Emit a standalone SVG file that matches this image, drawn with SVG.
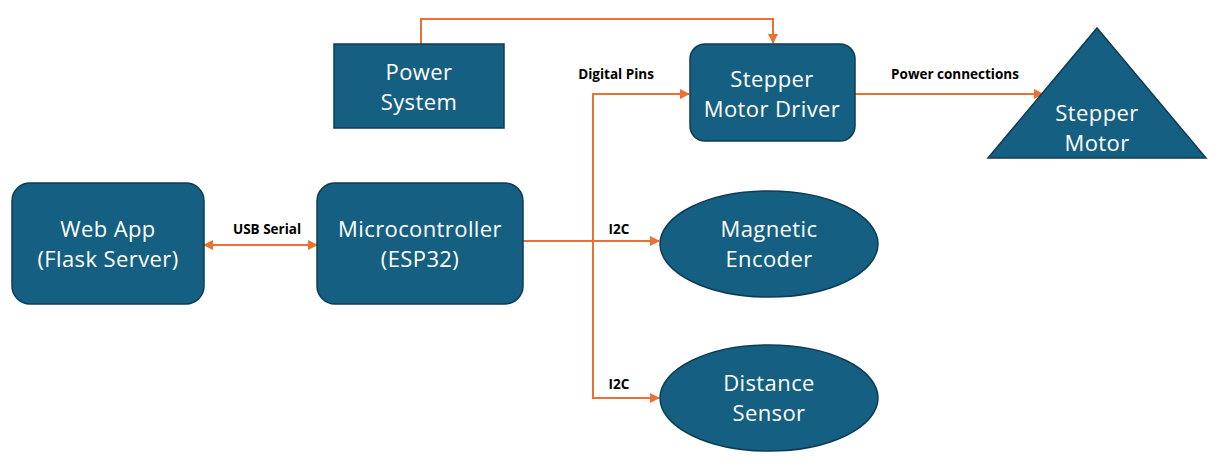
<svg xmlns="http://www.w3.org/2000/svg" width="1226" height="468" viewBox="0 0 1226 468">
<style>
.node{fill:#156082;stroke:#0c3c54;stroke-width:1.5}
.t{font-family:"Open Sans","Noto Sans",sans-serif;font-size:22px;letter-spacing:0.4px;fill:#ffffff;text-anchor:middle}
.lbl{font-family:"Open Sans","Noto Sans",sans-serif;font-size:13.5px;font-weight:bold;fill:#000000;text-anchor:middle}
.c{fill:none;stroke:#e97132;stroke-width:2}
</style>
<defs>
<marker id="ah" viewBox="0 0 10 10" refX="9" refY="5" markerWidth="5" markerHeight="5" orient="auto-start-reverse" markerUnits="strokeWidth">
<path d="M0,0 L10,5 L0,10 z" fill="#e97132"/>
</marker>
</defs>
<rect width="1226" height="468" fill="#ffffff"/>
<g id="connectors">
<path class="c" d="M421,44 V19 H773 V43" marker-end="url(#ah)"/>
<path class="c" d="M204,245 H317" marker-start="url(#ah)" marker-end="url(#ah)"/>
<path class="c" d="M523,241 H659" marker-end="url(#ah)"/>
<path class="c" d="M593,241 V94 H689" marker-end="url(#ah)"/>
<path class="c" d="M593,241 V398 H659" marker-end="url(#ah)"/>
<path class="c" d="M855,94 H1043" marker-end="url(#ah)"/>
<text class="lbl" x="267" y="234">USB Serial</text>
<text class="lbl" x="616" y="79">Digital Pins</text>
<text class="lbl" x="619" y="234">I2C</text>
<text class="lbl" x="619" y="389">I2C</text>
<text class="lbl" x="955" y="79">Power connections</text>
</g>
<g id="webapp">
<rect class="node" x="12" y="183" width="192" height="121" rx="18"/>
<text class="t" x="108" y="237">Web App</text>
<text class="t" x="108" y="267">(Flask Server)</text>
</g>
<g id="microcontroller">
<rect class="node" x="317" y="183" width="206" height="121" rx="18"/>
<text class="t" x="420" y="237">Microcontroller</text>
<text class="t" x="420" y="267">(ESP32)</text>
</g>
<g id="power">
<rect class="node" x="334" y="44" width="170" height="84"/>
<text class="t" x="419" y="80">Power</text>
<text class="t" x="419" y="110">System</text>
</g>
<g id="driver">
<rect class="node" x="690" y="44" width="165" height="97" rx="15"/>
<text class="t" x="772" y="87">Stepper</text>
<text class="t" x="772" y="117">Motor Driver</text>
</g>
<g id="encoder">
<ellipse class="node" cx="769" cy="244" rx="109" ry="53"/>
<text class="t" x="769" y="237">Magnetic</text>
<text class="t" x="769" y="267">Encoder</text>
</g>
<g id="distance">
<ellipse class="node" cx="769" cy="398" rx="109" ry="53"/>
<text class="t" x="769" y="391">Distance</text>
<text class="t" x="769" y="421">Sensor</text>
</g>
<g id="motor">
<polygon class="node" points="1097,28 1206,158 988,158"/>
<text class="t" x="1097" y="121">Stepper</text>
<text class="t" x="1097" y="151">Motor</text>
</g>
</svg>
